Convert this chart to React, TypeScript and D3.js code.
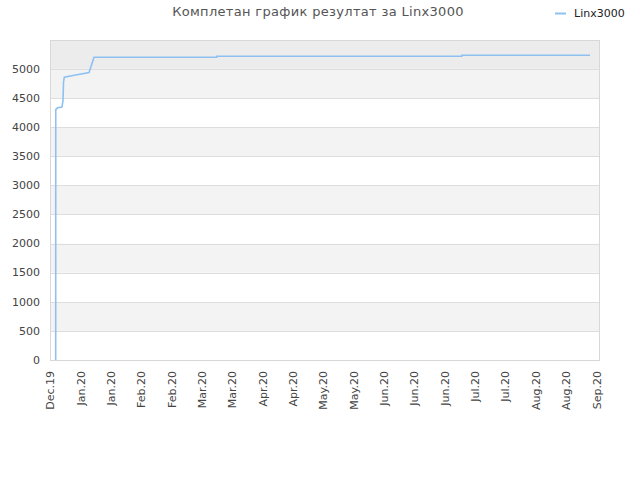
import React from "react";
import * as d3 from "d3";

const title = "Комплетан график резултат за Linx3000";
const seriesName = "Linx3000";
const xTickLabels = ["Dec.19","Jan.20","Jan.20","Feb.20","Feb.20","Mar.20","Mar.20","Apr.20","Apr.20","May.20","May.20","Jun.20","Jun.20","Jun.20","Jul.20","Jul.20","Aug.20","Aug.20","Sep.20"];
const yTicks = [0,500,1000,1500,2000,2500,3000,3500,4000,4500,5000];
// x in tick-interval units (0 = first tick label)
const xs = [0.188, 0.19, 0.25, 0.395, 0.428, 0.445, 0.471, 0.8, 1.285, 1.373, 1.426, 1.449, 5.49, 5.49, 13.57, 13.57, 17.79];
const ys = [0, 4300, 4330, 4342, 4457, 4770, 4856, 4890, 4937, 5074, 5160, 5199, 5199, 5216, 5216, 5233, 5233];

const W = 640, H = 480;
const L = 50, R = 600, T = 40, B = 360;

export default function App() {
  const maxV = d3.max(ys) as number;
  const x = d3.scaleLinear().domain([0, 18.12]).range([L, R]);
  const y = d3.scaleLinear().domain([0, maxV * 1.05]).range([B, T]);
  const pts = xs.map((v, i) => [v, ys[i]] as [number, number]);
  const line = d3.line<[number, number]>().x(d => x(d[0])).y(d => y(d[1]));
  const top = y.domain()[1];
  const bands: [number, number, string][] = [];
  for (let i = 0; i < yTicks.length; i++) {
    const a = yTicks[i];
    const b = i + 1 < yTicks.length ? yTicks[i + 1] : top;
    const fill = i === yTicks.length - 1 ? "#ececec" : i % 2 === 1 ? "#f3f3f3" : "#ffffff";
    bands.push([a, b, fill]);
  }
  const font = "DejaVu Sans, sans-serif";
  return (
    <svg width={W} height={H} style={{ position: "absolute", left: 0, top: 0, background: "#fff" }} fontFamily={font}>
      {bands.map(([a, b, f], i) => (
        <rect key={i} x={L} y={y(b)} width={R - L} height={y(a) - y(b)} fill={f} />
      ))}
      {yTicks.map((t, i) => (
        <line key={i} x1={L} x2={R} y1={Math.round(y(t)) + 0.5} y2={Math.round(y(t)) + 0.5} stroke="#dddddd" />
      ))}
      <rect x={L + 0.5} y={T + 0.5} width={R - L - 1} height={B - T} fill="none" stroke="#d8d8d8" />
      {yTicks.map((t, i) => (
        <text key={i} x={L - 10} y={y(t)} dy="0.35em" textAnchor="end" fontSize={11} fill="#444">{t}</text>
      ))}
      {xTickLabels.map((lab, i) => (
        <text key={i} transform={`translate(${x(i) + 0.3},${B + 11}) rotate(-90)`} dy="0.35em" textAnchor="end" fontSize={11} fill="#444">{lab}</text>
      ))}
      <path d={line(pts) || ""} fill="none" stroke="#8ec1f2" strokeWidth={1.6} />
      <text x={318} y={16} textAnchor="middle" fontSize={13} fill="#555" letterSpacing={0.32}>{title}</text>
      <line x1={555} x2={566} y1={13.5} y2={13.5} stroke="#8ec1f2" strokeWidth={2} />
      <text x={574} y={17} fontSize={11} fill="#222">{seriesName}</text>
    </svg>
  );
}
